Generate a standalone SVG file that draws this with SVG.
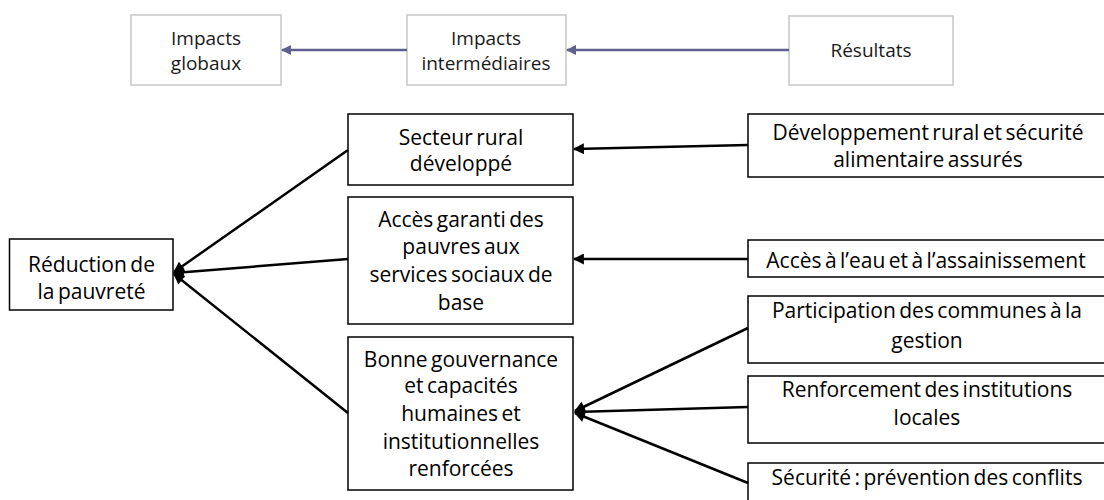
<svg xmlns="http://www.w3.org/2000/svg" width="1104" height="500" viewBox="0 0 1104 500">
  <style>
    .top rect { fill: #fff; stroke: #c6c6c6; stroke-width: 1.5; }
    .top text { font-family: "Open Sans", "Liberation Sans", sans-serif; font-size: 19px; fill: #1a1a1a; text-anchor: middle; }
    .box rect { fill: #fff; stroke: #000; stroke-width: 1.5; }
    .box text { font-family: "Open Sans", "Liberation Sans", sans-serif; font-size: 21px; word-spacing: -2px; fill: #000; text-anchor: middle; }
    .flow { stroke: #60608f; stroke-width: 2.5; fill: none; }
    .link { stroke: #000; stroke-width: 2.5; fill: none; }
  </style>
  <defs>
    <marker id="arrBlue" viewBox="0 0 10 10" refX="9" refY="5" markerWidth="12" markerHeight="10" markerUnits="userSpaceOnUse" orient="auto">
      <path d="M0,0 L10,5 L0,10 Z" fill="#60608f"/>
    </marker>
    <marker id="arrBlack" viewBox="0 0 10 10" refX="9" refY="5" markerWidth="13" markerHeight="11" markerUnits="userSpaceOnUse" orient="auto">
      <path d="M0,0 L10,5 L0,10 Z" fill="#000"/>
    </marker>
  </defs>

  <!-- legend row -->
  <g id="impacts-globaux" class="top">
    <rect x="131" y="15" width="150" height="70"/>
    <text x="206" y="45">Impacts</text>
    <text x="206" y="70">globaux</text>
  </g>
  <g id="impacts-intermediaires" class="top">
    <rect x="407" y="15" width="159" height="70"/>
    <text x="486" y="45">Impacts</text>
    <text x="486" y="70">intermédiaires</text>
  </g>
  <g id="resultats" class="top">
    <rect x="789" y="16" width="164" height="69"/>
    <text x="871" y="57">Résultats</text>
  </g>

  <!-- impact level -->
  <g id="reduction-pauvrete" class="box">
    <rect x="9.5" y="239" width="163.5" height="71"/>
    <text x="91.5" y="272">Réduction de</text>
    <text x="91.5" y="299">la pauvreté</text>
  </g>

  <!-- intermediate impacts -->
  <g id="secteur-rural" class="box">
    <rect x="348" y="114" width="225" height="71"/>
    <text x="461" y="145">Secteur rural</text>
    <text x="461" y="171">développé</text>
  </g>
  <g id="acces-services" class="box">
    <rect x="348" y="197" width="225" height="127"/>
    <text x="461" y="227">Accès garanti des</text>
    <text x="461" y="254">pauvres aux</text>
    <text x="461" y="282">services sociaux de</text>
    <text x="461" y="310">base</text>
  </g>
  <g id="bonne-gouvernance" class="box">
    <rect x="348" y="337" width="225" height="153"/>
    <text x="461" y="367">Bonne gouvernance</text>
    <text x="461" y="393">et  capacités</text>
    <text x="461" y="421">humaines et</text>
    <text x="461" y="449">institutionnelles</text>
    <text x="461" y="476">renforcées</text>
  </g>

  <!-- results -->
  <g id="developpement-rural" class="box">
    <rect x="748" y="114" width="370" height="63"/>
    <text x="928" y="140">Développement rural et sécurité</text>
    <text x="928" y="167">alimentaire assurés</text>
  </g>
  <g id="acces-eau" class="box">
    <rect x="748" y="240" width="370" height="37"/>
    <text x="926" y="268">Accès à l’eau et à l’assainissement</text>
  </g>
  <g id="participation-communes" class="box">
    <rect x="748" y="296" width="370" height="67"/>
    <text x="927" y="318">Participation des communes à la</text>
    <text x="927" y="348">gestion</text>
  </g>
  <g id="renforcement-institutions" class="box">
    <rect x="748" y="376" width="370" height="67"/>
    <text x="927" y="397">Renforcement des institutions</text>
    <text x="927" y="425">locales</text>
  </g>
  <g id="securite" class="box">
    <rect x="748" y="463" width="370" height="60"/>
    <text x="927" y="485">Sécurité : prévention des conflits</text>
  </g>

  <!-- connectors -->
  <g id="connectors">
    <line class="flow" x1="407" y1="50" x2="282" y2="50" marker-end="url(#arrBlue)"/>
    <line class="flow" x1="789" y1="50" x2="567" y2="50" marker-end="url(#arrBlue)"/>

    <line class="link" x1="348" y1="150" x2="174" y2="272" marker-end="url(#arrBlack)"/>
    <line class="link" x1="348" y1="259" x2="174" y2="273" marker-end="url(#arrBlack)"/>
    <line class="link" x1="348" y1="413" x2="174" y2="274" marker-end="url(#arrBlack)"/>

    <line class="link" x1="748" y1="145" x2="574" y2="149" marker-end="url(#arrBlack)"/>
    <line class="link" x1="748" y1="259" x2="574" y2="259" marker-end="url(#arrBlack)"/>
    <line class="link" x1="748" y1="328" x2="575" y2="411" marker-end="url(#arrBlack)"/>
    <line class="link" x1="748" y1="407" x2="575" y2="412" marker-end="url(#arrBlack)"/>
    <line class="link" x1="748" y1="483" x2="575" y2="413" marker-end="url(#arrBlack)"/>
  </g>
</svg>
